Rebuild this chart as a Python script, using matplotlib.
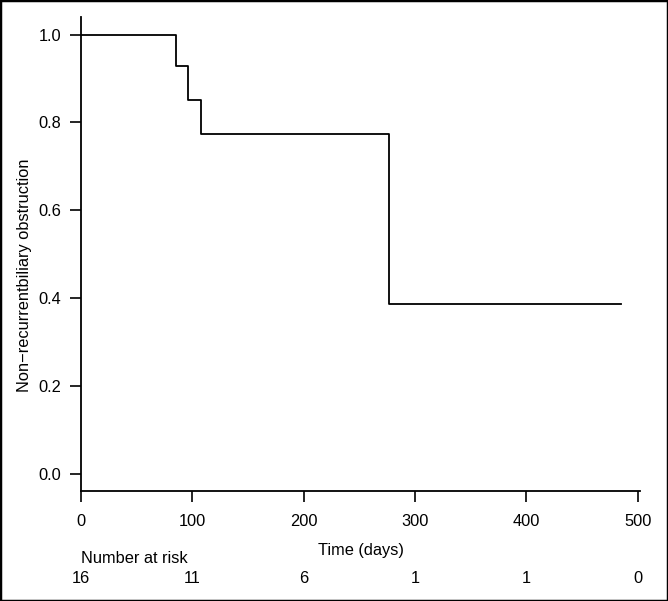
import matplotlib
matplotlib.use("Agg")
import matplotlib.pyplot as plt
from matplotlib.patches import Rectangle
from matplotlib.transforms import blended_transform_factory

plt.rcParams['font.family'] = ['Liberation Sans', 'DejaVu Sans']

# Kaplan-Meier estimate
times = [0, 85.3, 95.7, 107.7, 276.5, 485]
surv = [1.0, 0.929, 0.851, 0.774, 0.387, 0.387]

risk_times = [0, 100, 200, 300, 400, 500]
at_risk = [16, 11, 6, 1, 1, 0]

xticks = [0, 100, 200, 300, 400, 500]
yticks = [0.0, 0.2, 0.4, 0.6, 0.8, 1.0]

fs = 11.8

fig = plt.figure(figsize=(6.68, 6.01), dpi=100)
ax = fig.add_axes([0.1213, 0.1835, 0.8367, 0.7882])

ax.step(times, surv, where='post', color='black', lw=1.3)

ax.set_xlim(0, 502)
ax.set_ylim(-0.038, 1.04)
ax.set_xticks(xticks)
ax.set_yticks(yticks)
ax.set_yticklabels(["%.1f" % v for v in yticks])
ax.spines['top'].set_visible(False)
ax.spines['right'].set_visible(False)
for s in ['left', 'bottom']:
    ax.spines[s].set_linewidth(1.3)
ax.tick_params(direction='out', length=8, width=1.2, labelsize=fs, colors='black')
ax.tick_params(axis='x', pad=9)
ax.tick_params(axis='y', pad=6)

ax.set_ylabel("Non\u2212recurrentbiliary obstruction", fontsize=fs)
ax.yaxis.set_label_coords(-0.087, 0.455)
ax.set_xlabel("Time (days)", fontsize=fs, labelpad=10)

# number at risk table under the axis
tr = blended_transform_factory(ax.transData, fig.transFigure)
ax.text(0, 0.070, "Number at risk", transform=tr, ha='left', va='center',
        fontsize=fs, clip_on=False)
for t, n in zip(risk_times, at_risk):
    ax.text(t, 0.037, str(n), transform=tr, ha='center', va='center',
            fontsize=fs, clip_on=False)

fig.patches.append(Rectangle((0, 0), 1, 1, transform=fig.transFigure,
                             fill=False, edgecolor='black', lw=2.5))

fig.savefig("out.png", dpi=100)
